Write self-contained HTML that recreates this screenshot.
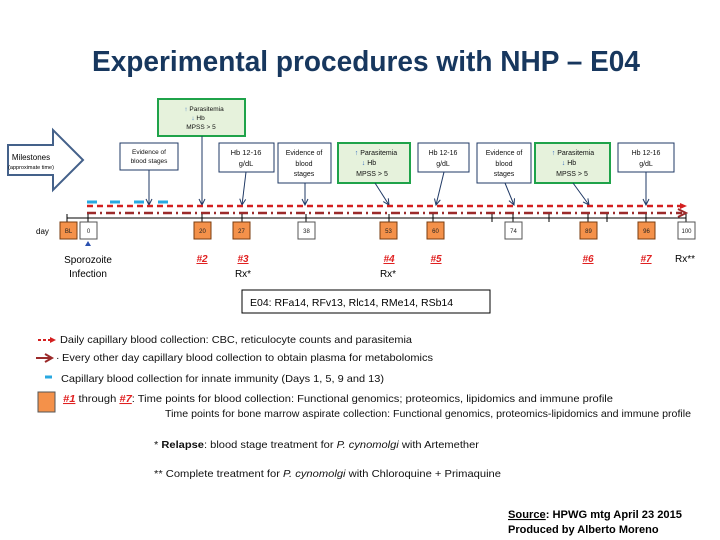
<!DOCTYPE html>
<html><head><meta charset="utf-8"><style>
html,body{margin:0;padding:0;background:#fff}
svg{display:block;font-family:"Liberation Sans",sans-serif}
</style></head><body>
<svg width="720" height="540" viewBox="0 0 720 540">
<defs>
<marker id="ah" markerWidth="8" markerHeight="8" refX="7" refY="4" orient="auto" markerUnits="userSpaceOnUse"><path d="M1,1 L7,4 L1,7" fill="none" stroke="#1f3864" stroke-width="1"/></marker>
</defs>
<text x="92" y="71" font-size="29" font-weight="bold" fill="#17375e" textLength="548" lengthAdjust="spacingAndGlyphs">Experimental procedures with NHP – E04</text>
<polygon points="8,145 53,145 53,130 83,160 53,190 53,175 8,175" fill="#fff" stroke="#44618a" stroke-width="2"/>
<text x="31" y="160" text-anchor="middle" font-size="8">Milestones</text>
<text x="31" y="169" text-anchor="middle" font-size="5.5">(approximate time)</text>
<g stroke="#1f3864" stroke-width="1" fill="#fff">
<rect x="120" y="143" width="58" height="27"/>
<rect x="219" y="143" width="55" height="29"/>
<rect x="278" y="143" width="53" height="40"/>
<rect x="418" y="143" width="51" height="29"/>
<rect x="477" y="143" width="54" height="40"/>
<rect x="618" y="143" width="56" height="29"/>
</g>
<g stroke="#1fa34a" stroke-width="2" fill="#e6f2dc">
<rect x="158" y="99" width="87" height="37"/>
<rect x="338" y="143" width="72" height="40"/>
<rect x="535" y="143" width="75" height="40"/>
</g>
<g font-size="6.5" text-anchor="middle" fill="#111">
<text x="149" y="154">Evidence of</text><text x="149" y="163">blood stages</text>
<text x="246" y="155" font-size="7.5">Hb 12-16</text><text x="246" y="166" font-size="7.5">g/dL</text>
<text x="304" y="155" font-size="7">Evidence of</text><text x="304" y="166" font-size="7">blood</text><text x="304" y="176" font-size="7">stages</text>
<text x="443" y="155" font-size="7">Hb 12-16</text><text x="443" y="166" font-size="7">g/dL</text>
<text x="504" y="155" font-size="7">Evidence of</text><text x="504" y="166" font-size="7">blood</text><text x="504" y="176" font-size="7">stages</text>
<text x="646" y="155" font-size="7">Hb 12-16</text><text x="646" y="166" font-size="7">g/dL</text>
<text x="204" y="111"><tspan fill="#3a6fc0">↑</tspan> Parasitemia</text><text x="198" y="120"><tspan fill="#3a6fc0">↓</tspan> Hb</text><text x="201" y="129">MPSS &gt; 5</text>
<text x="376" y="155" font-size="7"><tspan fill="#3a6fc0">↑</tspan> Parasitemia</text><text x="369" y="165" font-size="7"><tspan fill="#3a6fc0">↓</tspan> Hb</text><text x="372" y="176" font-size="7">MPSS &gt; 5</text>
<text x="573" y="155" font-size="7"><tspan fill="#3a6fc0">↑</tspan> Parasitemia</text><text x="569" y="165" font-size="7"><tspan fill="#3a6fc0">↓</tspan> Hb</text><text x="572" y="176" font-size="7">MPSS &gt; 5</text>
</g>
<g stroke="#1f3864" stroke-width="1" marker-end="url(#ah)">
<line x1="149" y1="170" x2="149" y2="205"/>
<line x1="202" y1="136" x2="202" y2="205"/>
<line x1="246" y1="172" x2="242" y2="205"/>
<line x1="305" y1="183" x2="305" y2="205"/>
<line x1="375" y1="183" x2="389" y2="205"/>
<line x1="444" y1="172" x2="436" y2="205"/>
<line x1="505" y1="183" x2="514" y2="205"/>
<line x1="573" y1="183" x2="589" y2="205"/>
<line x1="646" y1="172" x2="646" y2="205"/>
</g>
<g stroke="#29a8e0" stroke-width="3">
<line x1="87" y1="202" x2="97" y2="202"/><line x1="110" y1="202" x2="120" y2="202"/><line x1="134" y1="202" x2="144" y2="202"/><line x1="158" y1="202" x2="168" y2="202"/>
</g>
<line x1="87" y1="206" x2="680" y2="206" stroke="#d42020" stroke-width="2.5" stroke-dasharray="6,4"/>
<path d="M680,203 L687,206 L680,209Z" fill="#d42020"/>
<line x1="87" y1="213" x2="682" y2="213" stroke="#9b2a2a" stroke-width="2.5" stroke-dasharray="9,4,2,4"/>
<path d="M678,209 L686,213 L678,217" fill="none" stroke="#9b2a2a" stroke-width="2"/>
<g stroke="#000" stroke-width="1">
<line x1="67" y1="218" x2="686" y2="218"/>
<line x1="67" y1="214" x2="67" y2="222"/><line x1="88" y1="214" x2="88" y2="222"/><line x1="202" y1="214" x2="202" y2="222"/><line x1="242" y1="214" x2="242" y2="222"/><line x1="306" y1="214" x2="306" y2="222"/><line x1="389" y1="214" x2="389" y2="222"/><line x1="433" y1="214" x2="433" y2="222"/><line x1="492" y1="214" x2="492" y2="222"/><line x1="513" y1="214" x2="513" y2="222"/><line x1="549" y1="214" x2="549" y2="222"/><line x1="588" y1="214" x2="588" y2="222"/><line x1="607" y1="214" x2="607" y2="222"/><line x1="646" y1="214" x2="646" y2="222"/><line x1="686" y1="214" x2="686" y2="222"/>
</g>
<text x="36" y="234" font-size="8">day</text>
<g stroke="#555" stroke-width="1" font-size="6">
<rect x="60" y="222" width="17" height="17" fill="#f4914a" stroke="#7a3d10"/>
<rect x="80" y="222" width="17" height="17" fill="#fff"/>
<rect x="194" y="222" width="17" height="17" fill="#f4914a" stroke="#7a3d10"/>
<rect x="233" y="222" width="17" height="17" fill="#f4914a" stroke="#7a3d10"/>
<rect x="298" y="222" width="17" height="17" fill="#fff"/>
<rect x="380" y="222" width="17" height="17" fill="#f4914a" stroke="#7a3d10"/>
<rect x="427" y="222" width="17" height="17" fill="#f4914a" stroke="#7a3d10"/>
<rect x="505" y="222" width="17" height="17" fill="#fff"/>
<rect x="580" y="222" width="17" height="17" fill="#f4914a" stroke="#7a3d10"/>
<rect x="638" y="222" width="17" height="17" fill="#f4914a" stroke="#7a3d10"/>
<rect x="678" y="222" width="17" height="17" fill="#fff"/>
</g>
<g font-size="6" text-anchor="middle" fill="#222">
<text x="68.5" y="233">BL</text><text x="88.5" y="233">0</text><text x="202.5" y="233">20</text><text x="241.5" y="233">27</text><text x="306.5" y="233">38</text><text x="388.5" y="233">53</text><text x="435.5" y="233">60</text><text x="513.5" y="233">74</text><text x="588.5" y="233">89</text><text x="646.5" y="233">96</text><text x="686.5" y="233">100</text>
</g>
<path d="M88,241 L91,246 L85,246Z" fill="#2a50b0"/>
<g font-size="10" text-anchor="middle">
<text x="88" y="263">Sporozoite</text><text x="88" y="277">Infection</text>
<text x="243" y="277">Rx*</text><text x="388" y="277">Rx*</text><text x="685" y="262">Rx**</text>
</g>
<g font-size="10" font-weight="bold" font-style="italic" fill="#e02020" text-anchor="middle" text-decoration="underline">
<text x="202" y="262">#2</text><text x="243" y="262">#3</text><text x="389" y="262">#4</text><text x="436" y="262">#5</text><text x="588" y="262">#6</text><text x="646" y="262">#7</text>
</g>
<rect x="242" y="290" width="248" height="23" fill="#fff" stroke="#000"/>
<text x="250" y="306" font-size="10.5">E04: RFa14, RFv13, Rlc14, RMe14, RSb14</text>
<line x1="38" y1="340" x2="50" y2="340" stroke="#d42020" stroke-width="2" stroke-dasharray="3,2"/>
<path d="M50,337 L56,340 L50,343Z" fill="#d42020"/>
<line x1="36" y1="358" x2="51" y2="358" stroke="#9b2a2a" stroke-width="2"/>
<path d="M45,354 L52,358 L45,362" fill="none" stroke="#9b2a2a" stroke-width="2"/>
<line x1="45" y1="377" x2="52" y2="377" stroke="#29a8e0" stroke-width="3"/>
<rect x="38" y="392" width="17" height="20" fill="#f4914a" stroke="#555"/>
<g font-size="10.5" fill="#111">
<text x="60" y="343" textLength="352" lengthAdjust="spacingAndGlyphs">Daily capillary blood collection: CBC, reticulocyte counts and parasitemia</text>
<text x="56" y="361">·</text>
<text x="62" y="361" textLength="371" lengthAdjust="spacingAndGlyphs">Every other day capillary blood collection to obtain plasma for metabolomics</text>
<text x="61" y="382" textLength="323" lengthAdjust="spacingAndGlyphs">Capillary blood collection for innate immunity (Days 1, 5, 9 and 13)</text>
<text x="63" y="402" textLength="550" lengthAdjust="spacingAndGlyphs"><tspan fill="#e02020" font-weight="bold" font-style="italic" text-decoration="underline">#1</tspan> through <tspan fill="#e02020" font-weight="bold" font-style="italic" text-decoration="underline">#7</tspan>: Time points for blood collection: Functional genomics; proteomics, lipidomics and immune profile</text>
<text x="165" y="417" textLength="526" lengthAdjust="spacingAndGlyphs">Time points for bone marrow aspirate collection: Functional genomics, proteomics-lipidomics and immune profile</text>
<text x="154" y="448" textLength="325" lengthAdjust="spacingAndGlyphs">* <tspan font-weight="bold">Relapse</tspan>: blood stage treatment for <tspan font-style="italic">P. cynomolgi</tspan> with Artemether</text>
<text x="154" y="477" textLength="347" lengthAdjust="spacingAndGlyphs">** Complete treatment for <tspan font-style="italic">P. cynomolgi</tspan> with Chloroquine + Primaquine</text>
</g>
<g font-size="11" font-weight="bold">
<text x="508" y="518" textLength="174" lengthAdjust="spacingAndGlyphs"><tspan text-decoration="underline">Source</tspan>: HPWG mtg April 23 2015</text>
<text x="508" y="533">Produced by Alberto Moreno</text>
</g>
</svg>
</body></html>
